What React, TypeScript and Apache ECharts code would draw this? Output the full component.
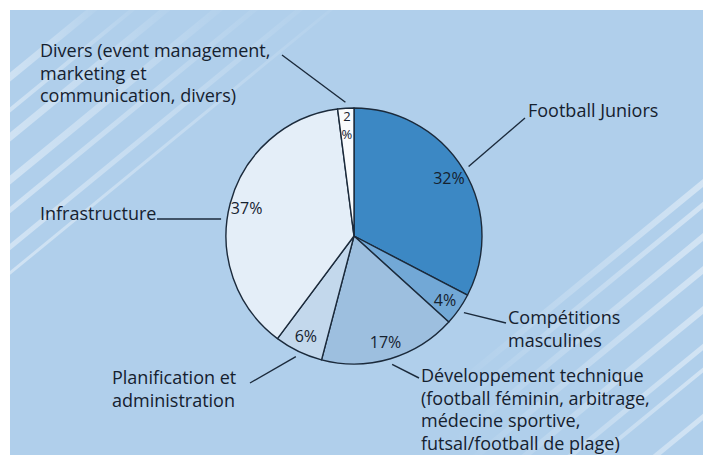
import React, { useEffect, useRef } from 'react';
import * as echarts from 'echarts';

// ---- data ----
const categories: string[] = [
  'Football Juniors',
  'Compétitions\nmasculines',
  'Développement technique\n(football féminin, arbitrage,\nmédecine sportive,\nfutsal/football de plage)',
  'Planification et\nadministration',
  'Infrastructure',
  'Divers (event management,\nmarketing et\ncommunication, divers)',
];
const values: number[] = [32, 4, 17, 6, 37, 2];
const sliceColors: string[] = ['#3c88c4', '#72a8d6', '#9dbfdf', '#c3d8ec', '#e4eef8', '#f9fbfd'];

// ---- layout (positions of outside labels, first-line centre, and leader-line ends) ----
const CX = 354;
const CY = 236;
const R = 128;
const GAP = 6;
const LH = 22.7;
const labelSpots = [
  { x: 528, y: 110, end: [525, 118] },
  { x: 508, y: 317, end: [506, 323] },
  { x: 421, y: 375, end: [419, 378] },
  { x: 112, y: 377, end: [250, 383] },
  { x: 40, y: 213, end: [157, 219], horizontal: true },
  { x: 40, y: 50, end: [282, 55] },
];
const stripesTopLeft = [
  { y: 77, w: 7 },
  { y: 110, w: 4 },
  { y: 137, w: 7 },
  { y: 180, w: 7 },
  { y: 210, w: 5 },
  { y: 247, w: 5 },
  { y: 273, w: 3 },
];
const stripesBottomRight = [
  { y: 183, w: 6 },
  { y: 205, w: 5 },
  { y: 237, w: 6 },
  { y: 270, w: 6 },
  { y: 310, w: 6 },
  { y: 347, w: 5 },
  { y: 370, w: 4 },
  { y: 417, w: 5 },
];
const SLOPE = 0.82;
const TEXT = '#15212f';
const FONT = "'Open Sans', 'Noto Sans', sans-serif";

export default function App() {
  const ref = useRef<HTMLDivElement>(null);
  useEffect(() => {
    if (!ref.current) return;
    const chart = echarts.init(ref.current, undefined, { renderer: 'svg' });
    const total = values.reduce((a, b) => a + b, 0);
    const mids: number[] = [];
    let cum = 0;
    values.forEach((v) => {
      mids.push(((cum + v / 2) / total) * Math.PI * 2);
      cum += v;
    });

    const graphics: any[] = [
      { type: 'rect', z: -10, shape: { x: 10, y: 10, width: 693, height: 445 }, style: { fill: '#b0cfeb' }, silent: true },
    ];
    stripesTopLeft.forEach((s) => {
      const x2 = 10 + (s.y - 10) / SLOPE;
      graphics.push({
        type: 'line', z: -9, silent: true,
        shape: { x1: 0, y1: s.y + 10 * SLOPE, x2: x2 + 8, y2: 10 - 8 * SLOPE },
        style: {
          lineWidth: s.w,
          stroke: {
            type: 'linear', x: 0, y: 0, x2: 1, y2: 0,
            colorStops: [
              { offset: 0, color: 'rgba(255,255,255,0.42)' },
              { offset: 0.55, color: 'rgba(255,255,255,0.25)' },
              { offset: 1, color: 'rgba(255,255,255,0.04)' },
            ],
          },
        },
      });
    });
    stripesBottomRight.forEach((s) => {
      const len = 250;
      graphics.push({
        type: 'line', z: -9, silent: true,
        shape: { x1: 713, y1: s.y - 10 * SLOPE, x2: 703 - len, y2: s.y + len * SLOPE },
        style: {
          lineWidth: s.w,
          stroke: {
            type: 'linear', x: 0, y: 0, x2: 1, y2: 0,
            colorStops: [
              { offset: 0, color: 'rgba(255,255,255,0)' },
              { offset: 0.45, color: 'rgba(255,255,255,0.2)' },
              { offset: 1, color: 'rgba(255,255,255,0.45)' },
            ],
          },
        },
      });
    });

    const data = categories.map((name, i) => ({
      name,
      value: values[i],
      itemStyle: { color: sliceColors[i] },
    }));

    const pctData = categories.map((name, i) => {
      const small = values[i] / total < 0.03;
      return small
        ? { name, value: values[i], label: { fontSize: 13, lineHeight: 18 } }
        : { name, value: values[i] };
    });

    chart.setOption({
      animation: false,
      backgroundColor: '#ffffff',
      graphic: { elements: graphics },
      series: [
        {
          type: 'pie',
          z: 2,
          center: [CX, CY],
          radius: R,
          startAngle: 90,
          clockwise: true,
          avoidLabelOverlap: false,
          minShowLabelAngle: 0,
          emphasis: { disabled: true },
          itemStyle: { borderColor: '#1b2a3b', borderWidth: 1.4 },
          label: {
            show: true,
            position: 'outside',
            alignTo: 'none',
            overflow: 'none',
            formatter: (p: any) => p.name,
            color: TEXT,
            fontFamily: FONT,
            fontWeight: 500,
            fontSize: 18,
            lineHeight: LH,
          },
          labelLine: {
            show: true,
            length: 10,
            length2: 10,
            smooth: false,
            lineStyle: { color: '#1b2a3b', width: 1.4 },
          },
          labelLayout: (params: any) => {
            const i = params.dataIndex;
            const s: any = labelSpots[i];
            let start: number[];
            if (s.horizontal) {
              const dy = s.end[1] - CY;
              const rr = R + GAP;
              const dx = Math.sqrt(Math.max(rr * rr - dy * dy, 0));
              start = [s.end[0] < CX ? CX - dx : CX + dx, s.end[1]];
            } else {
              const a = mids[i];
              start = [CX + (R + GAP) * Math.sin(a), CY - (R + GAP) * Math.cos(a)];
            }
            return {
              x: s.x,
              y: s.y - LH / 2,
              align: 'left',
              verticalAlign: 'top',
              hideOverlap: false,
              labelLinePoints: [start, [s.end[0], s.end[1]]],
            };
          },
          data,
        },
        {
          type: 'pie',
          z: 3,
          silent: true,
          center: [CX, CY],
          radius: [82, 134],
          startAngle: 90,
          clockwise: true,
          avoidLabelOverlap: false,
          minShowLabelAngle: 0,
          emphasis: { disabled: true },
          itemStyle: { color: 'rgba(0,0,0,0)', borderWidth: 0 },
          label: {
            show: true,
            position: 'inside',
            formatter: (p: any) => (p.value / total < 0.03 ? `${p.value}\n%` : `${p.value}%`),
            color: TEXT,
            fontFamily: FONT,
            fontWeight: 500,
            fontSize: 16,
          },
          labelLine: { show: false },
          data: pctData,
        },
      ],
    });
    return () => chart.dispose();
  }, []);
  return (
    <div
      ref={ref}
      style={{ position: 'absolute', left: 0, top: 0, width: 703, height: 455 }}
    />
  );
}
